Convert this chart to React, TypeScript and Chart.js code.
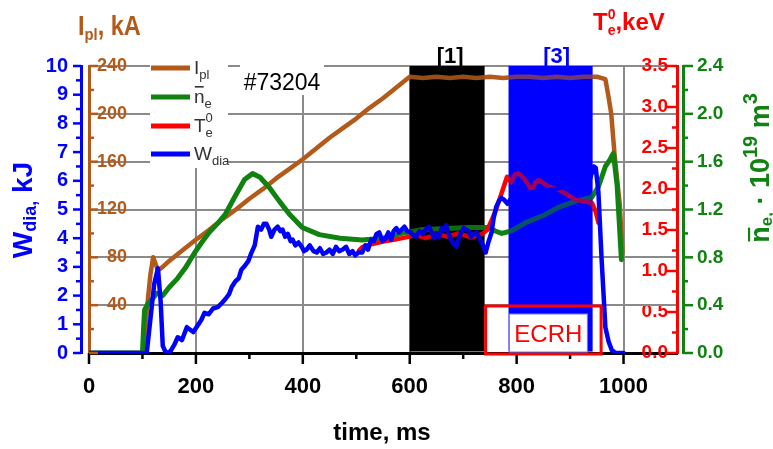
import React, { useEffect, useRef } from "react";
import { Chart, registerables } from "chart.js";

Chart.register(...registerables);

const FONT = '"Liberation Sans", Arial, Helvetica, sans-serif';
const BROWN = "#B35A1B";
const GREEN = "#0F820F";
const RED = "#FF0000";
const BLUE = "#0000FF";
const GRID_COLOR = "#8A8A8A";

const shotLabel = "#73204";

// Grid positions: time (ms) and plasma current (kA)
const gridTimes = [200, 400, 600, 800, 1000];
const gridCurrents = [40, 80, 120, 160, 200];

// Plasma current I_pl, kA: [time ms, value]
const ipKA: [number, number][] = [
  [0, 0], [100, 0], [104, 12], [110, 44], [115, 66], [120, 80], [125, 74], [129, 69], [138, 72],
  [150, 77], [175, 86], [198, 94], [225, 103], [250, 112], [275, 120], [300, 129], [325, 137],
  [350, 146], [375, 154], [400, 162], [425, 171], [450, 180], [475, 188], [500, 196], [525, 205],
  [550, 213], [575, 222], [600, 231], [625, 230], [650, 231], [675, 230], [700, 231], [725, 230],
  [750, 231], [775, 230], [800, 231], [825, 231], [850, 230], [875, 231], [900, 230], [925, 231],
  [950, 231], [966, 229], [972, 214], [977, 200], [983, 167], [988, 145], [993, 124], [998, 84],
];

// Line-averaged density, 10^19 m^-3
const neAvg: [number, number][] = [
  [0, 0], [100, 0], [102, 0.2], [104, 0.36], [110, 0.41], [118, 0.45], [127, 0.5], [138, 0.48],
  [150, 0.55], [165, 0.62], [180, 0.71], [195, 0.82], [210, 0.92], [225, 1.01], [240, 1.08],
  [255, 1.16], [272, 1.3], [291, 1.45], [306, 1.5], [320, 1.47], [338, 1.38], [356, 1.27],
  [375, 1.16], [399, 1.05], [431, 0.99], [470, 0.96], [511, 0.945], [550, 0.96], [586, 1.0],
  [620, 1.03], [660, 1.04], [711, 1.05], [748, 1.05], [760, 1.02], [772, 1.0], [790, 1.02],
  [817, 1.09], [850, 1.15], [879, 1.22], [910, 1.27], [940, 1.3], [953, 1.39], [966, 1.56],
  [975, 1.62], [981, 1.67], [988, 1.4], [996, 0.78],
];

// Central electron temperature, keV
const teCentral: [number, number][] = [
  [505, 1.25], [511, 1.29], [530, 1.33], [550, 1.36], [570, 1.38], [593, 1.41], [610, 1.44],
  [630, 1.4], [650, 1.45], [670, 1.42], [692, 1.46], [715, 1.41], [735, 1.45], [745, 1.5],
  [752, 1.6], [761, 1.74], [772, 1.95], [782, 2.15], [790, 2.08], [797, 2.18], [804, 2.19],
  [815, 2.12], [822, 2.05], [828, 1.98], [835, 2.08], [841, 2.11], [860, 2.03], [879, 1.99],
  [895, 1.93], [910, 1.87], [925, 1.85], [941, 1.83], [948, 1.72], [953, 1.59],
];

// Diamagnetic energy, kJ
const wDiaKJ: [number, number][] = [
  [0, 0], [108, 0], [115, 1.2], [122, 2.4], [129, 2.95], [134, 1.8], [138, 0.25], [144, 0],
  [152, 0.05], [160, 0.3], [166, 0.55], [174, 0.45], [183, 0.9], [190, 0.8], [195, 0.73],
  [203, 0.95], [210, 1.15], [216, 1.4], [224, 1.35], [232, 1.55], [241, 1.6], [249, 1.75],
  [256, 1.9], [262, 2.05], [267, 2.3], [274, 2.5], [280, 2.6], [285, 2.9], [292, 3.05],
  [298, 3.2], [304, 3.5], [310, 3.75], [316, 4.4], [322, 4.3], [327, 4.5], [332, 4.5],
  [337, 4.3], [341, 4.05], [347, 4.3], [353, 4.4], [358, 4.25], [362, 4.3], [367, 4.05],
  [372, 4.15], [377, 3.9], [381, 3.95], [386, 3.75], [392, 3.85], [398, 3.7], [402, 3.55],
  [407, 3.6], [413, 3.75], [420, 3.55], [426, 3.5], [432, 3.65], [438, 3.45], [444, 3.5],
  [450, 3.6], [456, 3.45], [462, 3.7], [468, 3.55], [474, 3.6], [481, 3.7], [487, 3.45],
  [493, 3.55], [498, 3.4], [504, 3.5], [511, 3.5], [517, 3.75], [522, 3.6], [528, 3.95],
  [533, 3.9], [538, 4.15], [543, 4.2], [549, 3.9], [555, 4.0], [560, 4.2], [565, 3.95],
  [570, 4.25], [575, 4.35], [580, 4.2], [585, 4.3], [590, 4.4], [595, 4.25], [602, 4.2],
  [607, 4.1], [612, 4.05], [618, 4.25], [624, 4.15], [630, 4.3], [636, 4.4], [641, 4.2],
  [646, 4.0], [650, 4.15], [655, 4.05], [660, 4.35], [664, 4.3], [668, 4.45], [672, 4.2],
  [677, 3.95], [682, 3.8], [687, 3.7], [692, 4.0], [696, 4.2], [701, 4.35], [705, 4.3],
  [710, 4.25], [715, 4.05], [720, 4.15], [725, 4.2], [729, 4.05], [733, 3.9], [738, 3.7],
  [742, 3.5], [747, 3.85], [753, 4.2], [757, 4.7], [762, 5.1], [767, 5.3], [771, 5.4],
  [776, 5.35], [783, 5.2], [790, 5.4], [800, 5.5], [815, 5.55], [830, 5.6], [850, 5.65],
  [870, 5.7], [890, 5.8], [910, 5.85], [925, 5.9], [938, 6.1], [944, 6.5], [948, 6.45],
  [953, 5.6], [959, 3.25], [966, 0.9], [972, 0.4], [978, 0.1], [985, 0], [1000, 0],
];

// Analysis windows (ms) and the ECRH pulse
const bandStart = [600, 785];
const bandEnd = [740, 942];
const bandNames = ["[1]", "[3]"];
const ecrhWindow = [742, 958];
const ecrhLabel = "ECRH";

const xTitle = "time, ms";

type Piece = { t: string; size: number; dy?: number; bar?: number; stay?: boolean };

function richWidth(ctx: CanvasRenderingContext2D, pieces: Piece[], weight: string) {
  let w = 0;
  for (const p of pieces) {
    if (p.stay) continue;
    ctx.font = `${weight} ${p.size}px ${FONT}`;
    w += ctx.measureText(p.t).width;
  }
  return w;
}

function drawRich(
  ctx: CanvasRenderingContext2D,
  pieces: Piece[],
  x: number,
  y: number,
  o: { color: string; weight: string; sx?: number; rotate?: number; center?: boolean }
) {
  const sx = o.sx ?? 1;
  const w = richWidth(ctx, pieces, o.weight);
  ctx.save();
  ctx.translate(x, y);
  if (o.rotate) ctx.rotate(o.rotate);
  ctx.scale(sx, 1);
  let cx = o.center ? -w / 2 : 0;
  ctx.fillStyle = o.color;
  ctx.textAlign = "left";
  ctx.textBaseline = "alphabetic";
  for (const p of pieces) {
    ctx.font = `${o.weight} ${p.size}px ${FONT}`;
    const dy = p.dy ?? 0;
    ctx.fillText(p.t, cx, dy);
    const pw = ctx.measureText(p.t).width;
    if (p.bar) ctx.fillRect(cx + pw * 0.08, dy - p.bar, pw * 0.84, Math.max(1.6, p.size * 0.08));
    if (!p.stay) cx += pw;
  }
  ctx.restore();
}

function seg(ctx: CanvasRenderingContext2D, x1: number, y1: number, x2: number, y2: number, color: string, w: number) {
  ctx.beginPath();
  ctx.strokeStyle = color;
  ctx.lineWidth = w;
  ctx.moveTo(x1, y1);
  ctx.lineTo(x2, y2);
  ctx.stroke();
}

function eachTick(scale: any, maxValue: number, cb: (px: number, major: boolean) => void) {
  const tk = scale.ticks;
  const step = tk[1].value - tk[0].value;
  tk.forEach((t: any, i: number) => {
    if (t.value > maxValue + 1e-9) return;
    cb(scale.getPixelForValue(t.value), true);
    const mid = t.value + step / 2;
    if (i < tk.length - 1 && mid < maxValue) cb(scale.getPixelForValue(mid), false);
  });
}

// Grid lines as filled strips, kept out of the shaded windows
function paintGrid(ctx: CanvasRenderingContext2D, a: any, x: any, yI: any) {
  const spans = bandStart
    .map((s, i) => [x.getPixelForValue(s), x.getPixelForValue(bandEnd[i])])
    .sort((m, n) => m[0] - n[0]);
  ctx.fillStyle = GRID_COLOR;
  for (const v of gridTimes) {
    const p = Math.round(x.getPixelForValue(v));
    if (spans.some(([l, r]) => p >= l && p <= r)) continue;
    ctx.fillRect(p - 1, Math.round(a.top), 2, Math.round(a.bottom - a.top) - 2);
  }
  for (const v of gridCurrents) {
    const p = Math.round(yI.getPixelForValue(v));
    let start = Math.round(yI.right + 41);
    for (const [l, r] of spans) {
      if (l > start) ctx.fillRect(start, p - 1, Math.round(l) - start, 2);
      start = Math.max(start, Math.round(r));
    }
    ctx.fillRect(start, p - 1, Math.round(a.right) - 2 - start, 2);
  }
}

const decor = {
  id: "decor",
  beforeDatasetsDraw(chart: any) {
    const { ctx, chartArea: a, scales } = chart;
    const x = scales.x;
    ctx.save();
    ctx.globalAlpha = 1;
    paintGrid(ctx, a, x, scales.yI);
    bandStart.forEach((s, i) => {
      const x1 = x.getPixelForValue(s);
      const x2 = x.getPixelForValue(bandEnd[i]);
      ctx.fillStyle = i === 0 ? "#000000" : BLUE;
      ctx.fillRect(x1, a.top, x2 - x1, a.bottom - a.top - 1.5);
    });
    ctx.restore();
  },
  afterDatasetsDraw(chart: any) {
    const { ctx, chartArea: a, scales } = chart;
    const x = scales.x;
    ctx.save();
    const b1 = x.getPixelForValue(bandStart[1]);
    const b2 = x.getPixelForValue(bandEnd[1]);
    ctx.fillStyle = "rgba(0,0,255,0.38)";
    ctx.fillRect(b1, a.top, b2 - b1, a.bottom - a.top - 1.5);
    const k1 = x.getPixelForValue(bandStart[0]);
    const k2 = x.getPixelForValue(bandEnd[0]);
    ctx.fillStyle = "rgba(0,0,0,0.15)";
    ctx.fillRect(k1, a.top, k2 - k1, a.bottom - a.top - 1.5);
    ctx.restore();
  },
  afterDraw(chart: any) {
    const { ctx, chartArea: a, scales } = chart;
    const { x, yW, yI, yT, yN } = scales;
    ctx.save();

    // tick marks
    eachTick(x, 1000, (p, major) => seg(ctx, p, a.bottom, p, a.bottom + (major ? 11 : 6), "#000", 2.5));
    eachTick(yW, 10, (p, major) => seg(ctx, yW.right - (major ? 8 : 5), p, yW.right, p, BLUE, 2.5));
    eachTick(yI, 240, (p, major) => seg(ctx, yI.right, p, yI.right + (major ? 9 : 5), p, BROWN, 2.5));
    eachTick(yT, 3.5, (p, major) => seg(ctx, yT.left - (major ? 10 : 5), p, yT.left, p, RED, 2.5));
    eachTick(yN, 2.4, (p, major) => seg(ctx, yN.left, p, yN.left + (major ? 10 : 5), p, GREEN, 2.5));

    // window labels
    const c1 = (x.getPixelForValue(bandStart[0]) + x.getPixelForValue(bandEnd[0])) / 2;
    const c3 = (x.getPixelForValue(bandStart[1]) + x.getPixelForValue(bandEnd[1])) / 2;
    ctx.font = `bold 22px ${FONT}`;
    ctx.textAlign = "center";
    ctx.textBaseline = "alphabetic";
    ctx.fillStyle = "#000";
    ctx.fillText(bandNames[0], c1 + 3, 63);
    ctx.fillStyle = BLUE;
    ctx.fillText(bandNames[1], c3 + 6, 63);

    // ECRH pulse
    const e1 = x.getPixelForValue(ecrhWindow[0]);
    const e2 = x.getPixelForValue(ecrhWindow[1]);
    ctx.strokeStyle = RED;
    ctx.lineWidth = 3;
    ctx.strokeRect(e1, a.bottom - 47, e2 - e1, 48);
    ctx.font = `24px ${FONT}`;
    const ew = ctx.measureText(ecrhLabel).width;
    const ec = (e1 + e2) / 2 + 5;
    ctx.fillStyle = "#fff";
    ctx.fillRect(ec - ew / 2 - 5, a.bottom - 39, ew + 10, 38);
    ctx.strokeStyle = "#7878ff";
    ctx.lineWidth = 1;
    ctx.strokeRect(ec - ew / 2 - 5, a.bottom - 39, ew + 10, 38);
    ctx.fillStyle = RED;
    ctx.textAlign = "center";
    ctx.fillText(ecrhLabel, ec, a.bottom - 11);

    // shot number
    ctx.font = `23px ${FONT}`;
    ctx.fillStyle = "#fff";
    ctx.fillRect(240, 62, 84, 33);
    ctx.fillStyle = "#000";
    ctx.textAlign = "center";
    ctx.fillText(shotLabel, 282, 90);

    // legend
    ctx.fillStyle = "#fff";
    ctx.fillRect(150, 55, 78, 113);
    const rows: { color: string; y: number; pieces: Piece[] }[] = [
      { color: BROWN, y: 68, pieces: [{ t: "I", size: 19 }, { t: "pl", size: 13, dy: 5 }] },
      { color: GREEN, y: 97, pieces: [{ t: "n", size: 19, bar: 17 }, { t: "e", size: 13, dy: 5 }] },
      { color: RED, y: 126, pieces: [{ t: "T", size: 19 }, { t: "0", size: 13, dy: -10, stay: true }, { t: "e", size: 13, dy: 5 }] },
      { color: BLUE, y: 154, pieces: [{ t: "W", size: 19 }, { t: "dia", size: 13, dy: 5 }] },
    ];
    rows.forEach((r) => {
      seg(ctx, 151, r.y, 190, r.y, r.color, 5);
      drawRich(ctx, r.pieces, 194, r.y + 6, { color: "#333", weight: "normal" });
    });

    // axis titles
    drawRich(ctx, [{ t: "I", size: 27 }, { t: "pl", size: 17, dy: 5 }, { t: ", kA", size: 27 }], 78, 35, {
      color: BROWN, weight: "bold", sx: 0.87,
    });
    drawRich(
      ctx,
      [{ t: "T", size: 24 }, { t: "0", size: 14, dy: -11, stay: true }, { t: "e", size: 14, dy: 5 }, { t: ",keV", size: 24 }],
      593, 30, { color: RED, weight: "bold" }
    );
    drawRich(ctx, [{ t: "W", size: 28 }, { t: "dia,", size: 18, dy: 4 }, { t: " kJ", size: 28 }], 32, 210, {
      color: BLUE, weight: "bold", rotate: -Math.PI / 2, center: true,
    });
    drawRich(
      ctx,
      [
        { t: "n", size: 27, bar: 21 }, { t: "e,", size: 17, dy: 3 }, { t: " · 10", size: 27 },
        { t: "19", size: 20, dy: -12 }, { t: " m", size: 27 }, { t: "3", size: 20, dy: -12 },
      ],
      769, 168, { color: GREEN, weight: "bold", rotate: -Math.PI / 2, center: true }
    );
    ctx.font = `bold 24px ${FONT}`;
    ctx.fillStyle = "#000";
    ctx.textAlign = "center";
    ctx.fillText(xTitle, 382, 440);

    ctx.restore();
  },
};

const toXY = (arr: [number, number][]) => arr.map(([t, v]) => ({ x: t, y: v }));
const tickFont = (size: number) => ({ family: FONT, size, weight: "bold" as const });

export default function App() {
  const ref = useRef<HTMLCanvasElement>(null);

  useEffect(() => {
    const chart = new Chart(ref.current!, {
      type: "line",
      data: {
        datasets: [
          { label: "W_dia", data: toXY(wDiaKJ), yAxisID: "yW", borderColor: BLUE, borderWidth: 4.5, fill: false },
          { label: "T_e0", data: toXY(teCentral), yAxisID: "yT", borderColor: RED, borderWidth: 4.5, fill: false },
          { label: "n_e", data: toXY(neAvg), yAxisID: "yN", borderColor: GREEN, borderWidth: 5, fill: false },
          { label: "I_pl", data: toXY(ipKA), yAxisID: "yI", borderColor: BROWN, borderWidth: 4.5, fill: false },
        ],
      },
      options: {
        animation: false,
        responsive: false,
        devicePixelRatio: 1,
        layout: { padding: { top: 66, left: 0, right: 0, bottom: 0 } },
        plugins: { legend: { display: false }, tooltip: { enabled: false } },
        elements: { point: { radius: 0 }, line: { tension: 0, borderJoinStyle: "round", borderCapStyle: "round" } },
        scales: {
          x: {
            type: "linear",
            position: "bottom",
            min: 0,
            max: 1100,
            ticks: {
              stepSize: 200,
              includeBounds: false,
              autoSkip: false,
              maxRotation: 0,
              padding: 21,
              color: "#000",
              font: tickFont(22),
              callback: (v: any) => (v <= 1000 ? String(v) : ""),
            },
            grid: { display: true, drawOnChartArea: true, drawTicks: false, color: GRID_COLOR, lineWidth: 2 },
            border: { color: "#000", width: 3 },
            afterFit: (s: any) => {
              s.height = 96;
            },
          },
          yW: {
            type: "linear",
            position: "left",
            weight: 2,
            min: 0,
            max: 10,
            ticks: { stepSize: 1, padding: 13, color: BLUE, font: tickFont(20) },
            grid: { display: false, drawTicks: false },
            border: { color: BLUE, width: 3 },
            afterFit: (s: any) => {
              s.width = 81;
            },
          },
          yI: {
            type: "linear",
            position: "left",
            weight: 1,
            min: 0,
            max: 240,
            ticks: {
              stepSize: 40,
              mirror: true,
              crossAlign: "far",
              padding: 8,
              color: BROWN,
              font: tickFont(18),
              callback: (v: any) => (v > 0 ? String(v) : ""),
            },
            grid: { display: true, drawOnChartArea: true, drawTicks: false, color: GRID_COLOR, lineWidth: 2 },
            border: { color: BROWN, width: 3 },
            afterFit: (s: any) => {
              s.width = 8;
            },
          },
          yT: {
            type: "linear",
            position: "right",
            weight: 1,
            min: 0,
            max: 3.5,
            ticks: {
              stepSize: 0.5,
              mirror: true,
              padding: -9,
              color: RED,
              font: tickFont(19),
              callback: (v: any) => Number(v).toFixed(1),
            },
            grid: { display: false, drawTicks: false },
            border: { color: RED, width: 3 },
            afterFit: (s: any) => {
              s.width = 6;
            },
          },
          yN: {
            type: "linear",
            position: "right",
            weight: 2,
            min: 0,
            max: 2.4,
            ticks: {
              stepSize: 0.4,
              padding: 14,
              color: GREEN,
              font: tickFont(19),
              callback: (v: any) => Number(v).toFixed(1),
            },
            grid: { display: false, drawTicks: false },
            border: { color: GREEN, width: 3 },
            afterFit: (s: any) => {
              s.width = 90;
            },
          },
        },
      } as any,
      plugins: [decor],
    });
    return () => chart.destroy();
  }, []);

  return (
    <div style={{ position: "absolute", left: 0, top: 0, width: 773, height: 449, background: "#fff" }}>
      <canvas ref={ref} width={773} height={449} style={{ display: "block", width: 773, height: 449 }} />
    </div>
  );
}
